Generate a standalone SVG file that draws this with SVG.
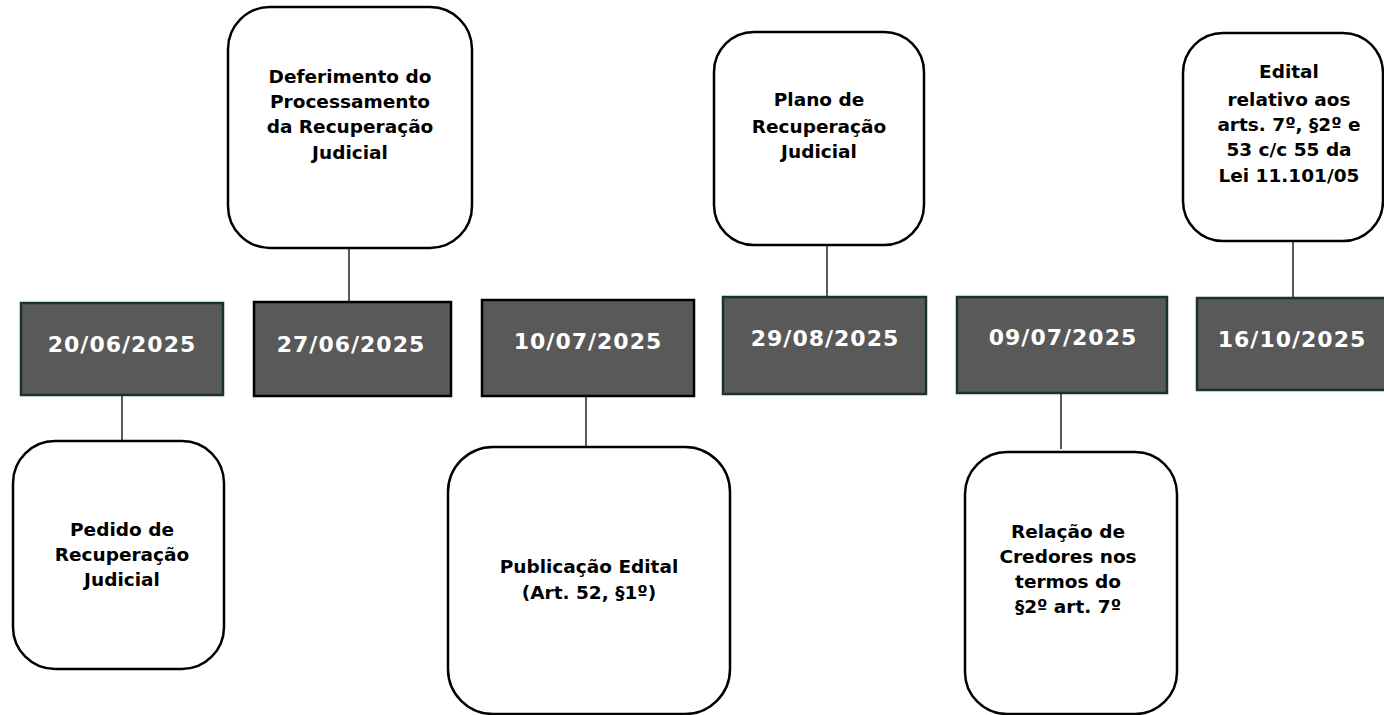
<svg xmlns="http://www.w3.org/2000/svg" width="1384" height="715" viewBox="0 0 1384 715">
<style>
.date rect{fill:#595959;stroke-width:2.5}
.teal rect{stroke:#17332f}
.blk rect{stroke:#000}
.date text{fill:#fff;font-family:"DejaVu Sans",Verdana,sans-serif;font-weight:bold;font-size:22px;letter-spacing:1px;text-anchor:middle}
.ev rect{fill:#fff;stroke:#000;stroke-width:2.5}
.ev text{fill:#000;font-family:"DejaVu Sans",Verdana,sans-serif;font-weight:bold;font-size:18.5px;text-anchor:middle}
#connectors line{stroke:#000;stroke-width:1.3}
</style>
<rect width="1384" height="715" fill="#fff"/>
<g id="connectors">
<line x1="122" y1="396" x2="122" y2="441"/>
<line x1="349" y1="244" x2="349" y2="302"/>
<line x1="586" y1="397" x2="586" y2="450"/>
<line x1="827" y1="245" x2="827" y2="297"/>
<line x1="1061" y1="394" x2="1061" y2="449"/>
<line x1="1293" y1="236" x2="1293" y2="298"/>
</g>
<g id="d1" class="date teal"><rect x="21" y="303" width="202" height="92"/><text x="122" y="352">20/06/2025</text></g>
<g id="d2" class="date blk"><rect x="254" y="302" width="197" height="94"/><text x="351" y="352">27/06/2025</text></g>
<g id="d3" class="date blk"><rect x="482" y="300" width="212" height="96"/><text x="588" y="349">10/07/2025</text></g>
<g id="d4" class="date teal"><rect x="723" y="297" width="203" height="97"/><text x="825" y="346">29/08/2025</text></g>
<g id="d5" class="date teal"><rect x="957" y="297" width="210" height="96"/><text x="1063" y="345">09/07/2025</text></g>
<g id="d6" class="date teal"><rect x="1197" y="298" width="190" height="92"/><text x="1292" y="347">16/10/2025</text></g>
<g id="e1" class="ev"><rect x="13" y="441" width="211" height="228" rx="42"/>
<text x="122" y="536">Pedido de</text><text x="122" y="561">Recuperação</text><text x="122" y="586">Judicial</text></g>
<g id="e2" class="ev"><rect x="228" y="7" width="244" height="241" rx="42"/>
<text x="350" y="83">Deferimento do</text><text x="350" y="108">Processamento</text><text x="350" y="133">da Recuperação</text><text x="350" y="159">Judicial</text></g>
<g id="e3" class="ev"><rect x="448" y="447" width="282" height="267" rx="45"/>
<text x="589" y="573">Publicação Edital</text><text x="589" y="599">(Art. 52, §1º)</text></g>
<g id="e4" class="ev"><rect x="714" y="32" width="210" height="213" rx="40"/>
<text x="819" y="106">Plano de</text><text x="819" y="133">Recuperação</text><text x="819" y="158">Judicial</text></g>
<g id="e5" class="ev"><rect x="965" y="452" width="212" height="262" rx="42"/>
<text x="1068" y="538">Relação de</text><text x="1068" y="563">Credores nos</text><text x="1068" y="588">termos do</text><text x="1068" y="613">§2º art. 7º</text></g>
<g id="e6" class="ev"><rect x="1183" y="33" width="200" height="208" rx="40"/>
<text x="1289" y="78">Edital</text><text x="1289" y="106">relativo aos</text><text x="1289" y="131">arts. 7º, §2º e</text><text x="1289" y="156">53 c/c 55 da</text><text x="1289" y="182">Lei 11.101/05</text></g>
</svg>
